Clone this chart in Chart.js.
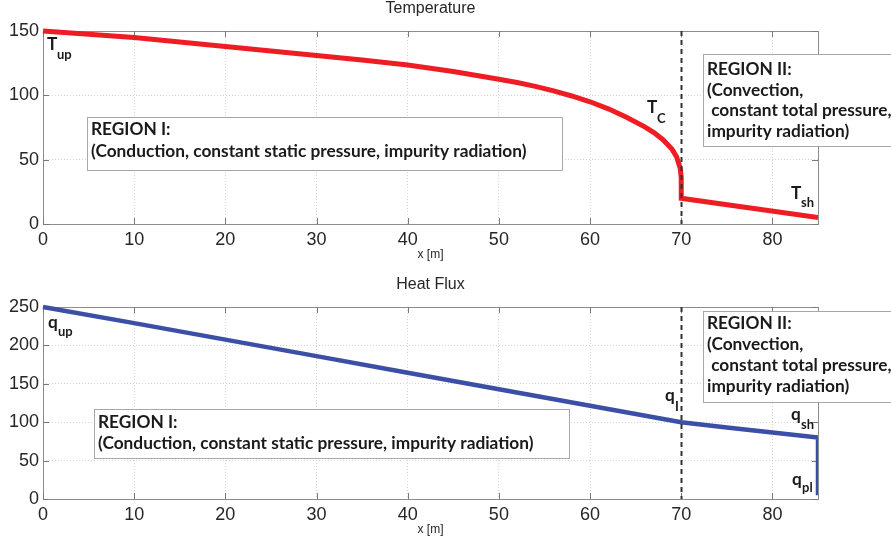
<!DOCTYPE html>
<html>
<head>
<meta charset="utf-8">
<script src="https://cdn.jsdelivr.net/npm/chart.js@4.4.1/dist/chart.umd.min.js"></script>
<style>
  html, body { margin: 0; padding: 0; background: #fff; }
  body { width: 891px; height: 544px; overflow: hidden; }
  canvas { display: block; }
</style>
</head>
<body>
<canvas id="temp" width="891" height="272"></canvas>
<canvas id="flux" width="891" height="272"></canvas>
<script>
// x positions [m] and values
var tempX = [0, 5, 10, 15, 20, 25, 30, 35, 40, 45, 50, 52, 54, 56, 58, 60, 62, 64, 66, 67, 68, 69, 69.5, 69.9, 70, 70, 85];
var tempY = [150, 147.5, 145, 141.5, 138, 134.5, 131, 127.5, 123.5, 118.5, 112.5, 110, 107, 103.5, 99.5, 95, 89.5, 83, 75.5, 71, 65.5, 58, 52, 43, 36, 20, 5];

var fluxX = [0, 10, 20, 30, 40, 50, 60, 70, 75, 80, 85, 85];
var fluxY = [250, 229, 207.5, 186, 164.5, 143, 121.5, 100, 93, 86.5, 80, 5];

var xTicks = [0, 10, 20, 30, 40, 50, 60, 70, 80];
var tempTicks = [0, 50, 100, 150];
var fluxTicks = [0, 50, 100, 150, 200, 250];

var boundaryX = 70;

var region1 = ['REGION I:', '(Conduction, constant static pressure, impurity radiation)'];
var region2 = ['REGION II:', '(Convection,', ' constant total pressure,', 'impurity radiation)'];

var noteFamily = 'Lato, "Noto Sans", sans-serif';

// size the note font so the long line is as wide as in the picture
var probe = document.createElement('canvas').getContext('2d');
probe.font = 'bold 100px ' + noteFamily;
var noteSize = Math.round(100 * 436 / probe.measureText(region1[1]).width * 10) / 10;
var noteFont = 'bold ' + noteSize + 'px ' + noteFamily;
var subFont = 'bold ' + Math.round(noteSize * 0.78) + 'px ' + noteFamily;

function points(xs, ys) {
  return xs.map(function(x, i) { return { x: x, y: ys[i] }; });
}

function textBox(ctx, lines, x, y, w, h, firstY, gap) {
  ctx.save();
  ctx.fillStyle = '#fff';
  ctx.fillRect(x, y, w, h);
  ctx.strokeStyle = '#a8a8a8';
  ctx.lineWidth = 1;
  ctx.strokeRect(x + 0.5, y + 0.5, w, h);
  ctx.fillStyle = '#1a1a1a';
  ctx.font = noteFont;
  ctx.textBaseline = 'middle';
  ctx.textAlign = 'left';
  lines.forEach(function(t, i) {
    ctx.fillText(t, x + 4, firstY + i * gap);
  });
  ctx.restore();
}

function subLabel(ctx, main, sub, x, y, subDx, subDy) {
  ctx.save();
  ctx.fillStyle = '#1a1a1a';
  ctx.textBaseline = 'alphabetic';
  ctx.textAlign = 'left';
  ctx.font = noteFont;
  ctx.fillText(main, x, y);
  ctx.font = subFont;
  ctx.fillText(sub, x + subDx, y + subDy);
  ctx.restore();
}

function makeDecor(title, yTicksArr, notes) {
  return {
    id: 'decor',
    beforeDatasetsDraw: function(chart) {
      var ctx = chart.ctx, a = chart.chartArea;
      var xs = chart.scales.x, ys = chart.scales.y;
      ctx.save();
      // frame
      ctx.strokeStyle = '#8c8c8c';
      ctx.lineWidth = 1;
      ctx.strokeRect(Math.round(a.left) + 0.5, Math.round(a.top) + 0.5,
        Math.round(a.right - a.left), Math.round(a.bottom - a.top));
      // inward ticks
      ctx.strokeStyle = '#7a7a7a';
      ctx.beginPath();
      xTicks.forEach(function(v) {
        var px = Math.round(xs.getPixelForValue(v)) + 0.5;
        ctx.moveTo(px, a.bottom); ctx.lineTo(px, a.bottom - 6);
        ctx.moveTo(px, a.top); ctx.lineTo(px, a.top + 6);
      });
      yTicksArr.forEach(function(v) {
        var py = Math.round(ys.getPixelForValue(v)) + 0.5;
        ctx.moveTo(a.left, py); ctx.lineTo(a.left + 6, py);
        ctx.moveTo(a.right, py); ctx.lineTo(a.right - 6, py);
      });
      ctx.stroke();
      // titles
      ctx.fillStyle = '#262626';
      ctx.textAlign = 'center';
      ctx.textBaseline = 'middle';
      ctx.font = '16px "Liberation Sans Narrow", "Liberation Sans", Arial, sans-serif';
      ctx.fillText(title, (a.left + a.right) / 2, a.top - 22);
      ctx.font = '12px "Liberation Sans Narrow", "Liberation Sans", Arial, sans-serif';
      ctx.fillText('x [m]', (a.left + a.right) / 2, a.bottom + 31);
      ctx.restore();
    },
    afterDatasetsDraw: function(chart) {
      var ctx = chart.ctx, a = chart.chartArea;
      var px = Math.round(chart.scales.x.getPixelForValue(boundaryX)) + 0.5;
      ctx.save();
      ctx.strokeStyle = '#333';
      ctx.lineWidth = 2;
      ctx.setLineDash([5, 4]);
      ctx.beginPath();
      ctx.moveTo(px, a.top);
      ctx.lineTo(px, a.bottom);
      ctx.stroke();
      ctx.restore();
      notes(ctx);
    }
  };
}

function makeChart(id, xs, ys, color, width, yMax, yTicksArr, xAxisH, topPad, title, notes) {
  return new Chart(document.getElementById(id).getContext('2d'), {
    type: 'scatter',
    data: {
      datasets: [{
        data: points(xs, ys),
        showLine: true,
        borderColor: color,
        borderWidth: width,
        pointRadius: 0,
        tension: 0,
        fill: false,
        clip: { left: 6, top: 6, right: 0, bottom: 6 }
      }]
    },
    options: {
      responsive: false,
      animation: false,
      events: [],
      layout: { padding: { left: 0, right: 73, top: topPad, bottom: 0 } },
      plugins: { legend: { display: false }, tooltip: { enabled: false }, title: { display: false } },
      scales: {
        x: {
          type: 'linear', min: 0, max: 85,
          afterBuildTicks: function(s) { s.ticks = xTicks.map(function(v) { return { value: v }; }); },
          afterFit: function(s) { s.height = xAxisH; },
          grid: { color: '#d4d4d4', drawTicks: false },
          border: { display: false, dash: [1, 2] },
          ticks: { color: '#262626', font: { family: '"Liberation Sans", Arial, sans-serif', size: 18 }, padding: 5, maxRotation: 0 }
        },
        y: {
          type: 'linear', min: 0, max: yMax,
          afterBuildTicks: function(s) { s.ticks = yTicksArr.map(function(v) { return { value: v }; }); },
          afterFit: function(s) { s.width = 43; },
          grid: { color: '#d4d4d4', drawTicks: false },
          border: { display: false, dash: [1, 2] },
          ticks: { color: '#262626', font: { family: '"Liberation Sans", Arial, sans-serif', size: 18 }, padding: 4 }
        }
      }
    },
    plugins: [makeDecor(title, yTicksArr, notes)]
  });
}

makeChart('temp', tempX, tempY, '#ee1d23', 5, 150, tempTicks, 48, 31, 'Temperature', function(ctx) {
  textBox(ctx, region1, 87, 117, 475, 53, 129.5, 21.5);
  textBox(ctx, region2, 703, 54, 192, 92, 69.5, 20.5);
  subLabel(ctx, 'T', 'up', 47, 50, 10, 9);
  subLabel(ctx, 'T', 'C', 647, 113, 10, 10);
  subLabel(ctx, 'T', 'sh', 791, 199, 10, 8);
});

makeChart('flux', fluxX, fluxY, '#3b4fa6', 4.5, 250, fluxTicks, 45, 35, 'Heat Flux', function(ctx) {
  textBox(ctx, region1, 94, 137, 475, 49, 150, 21);
  textBox(ctx, region2, 703, 39, 192, 91, 51, 21);
  subLabel(ctx, 'q', 'up', 48, 56, 10, 8);
  subLabel(ctx, 'q', 'I', 665, 129, 10, 10);
  subLabel(ctx, 'q', 'sh', 791, 148, 10, 9);
  subLabel(ctx, 'q', 'pl', 792, 213, 10, 7);
});
</script>
</body>
</html>
